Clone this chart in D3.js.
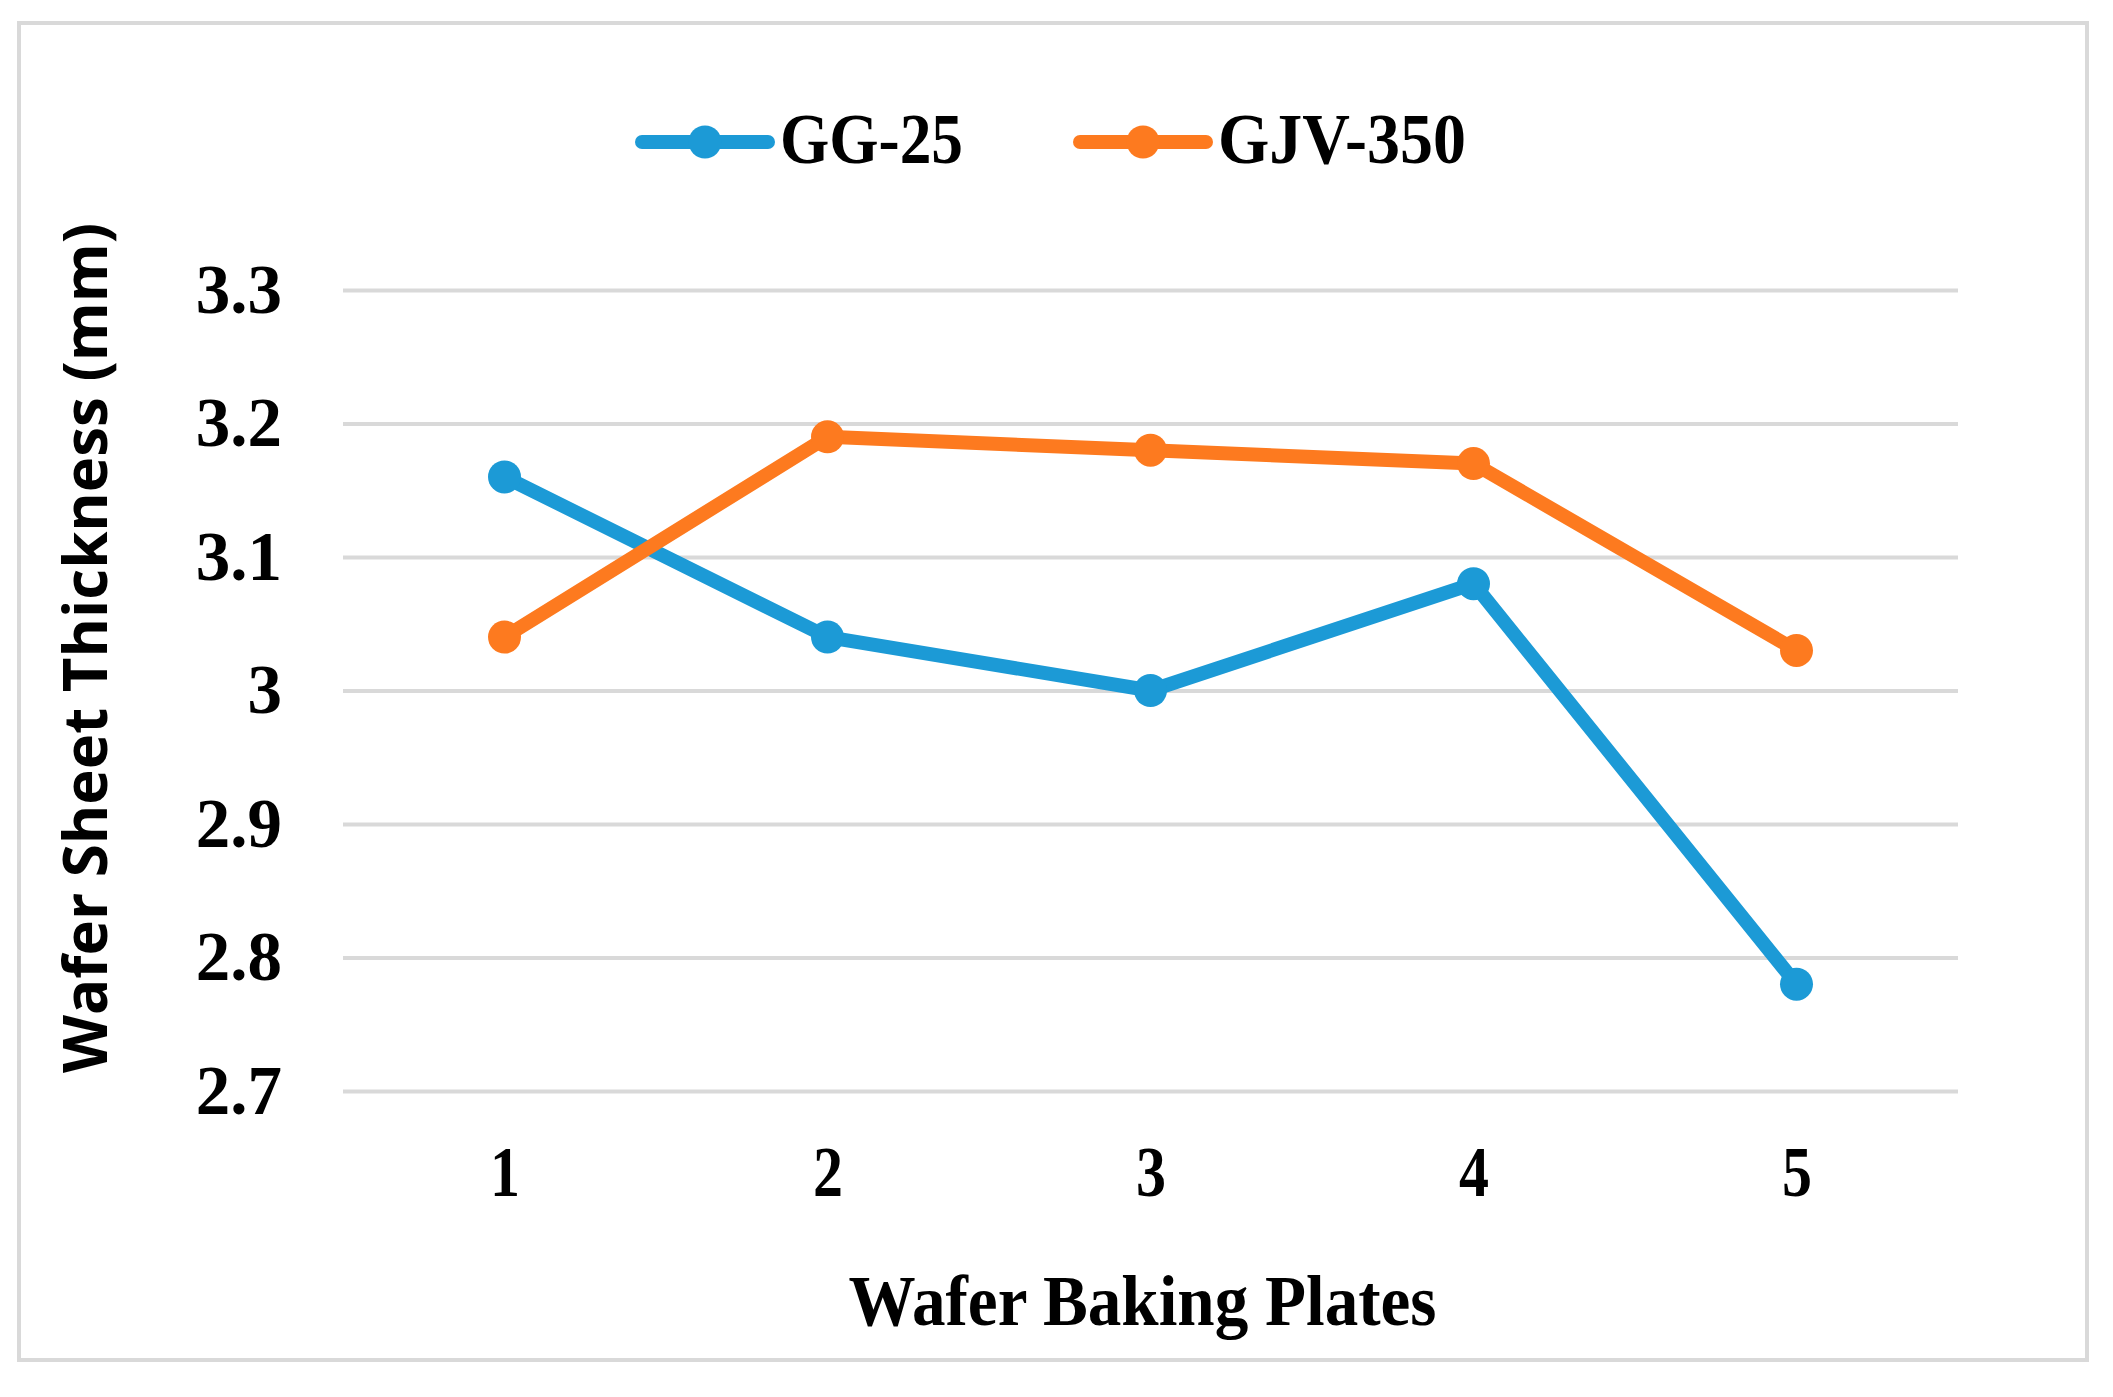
<!DOCTYPE html>
<html>
<head>
<meta charset="utf-8">
<script src="https://cdn.jsdelivr.net/npm/d3@7"></script>
<style>
  body { margin: 0; background: #fff; }
  .serif { font-family: "Liberation Serif", "Times New Roman", serif; font-weight: bold; }
</style>
</head>
<body>
<svg id="chart" width="2113" height="1397"></svg>
<script>
// data
var plates = [1, 2, 3, 4, 5];
var gg25 = [3.16, 3.04, 3.00, 3.08, 2.78];
var gjv350 = [3.04, 3.19, 3.18, 3.17, 3.03];
var seriesNames = ["GG-25", "GJV-350"];
var yTicks = [2.7, 2.8, 2.9, 3.0, 3.1, 3.2, 3.3];

var colors = ["#1c9ad6", "#fd7a1f"];

var margin = {top: 290, right: 155, bottom: 306, left: 343},
  width = 2113 - margin.left - margin.right,
  height = 1397 - margin.top - margin.bottom;

var svg = d3.select("#chart");

// outer frame
svg.append("rect")
  .attr("x", 19).attr("y", 23)
  .attr("width", 2068).attr("height", 1337)
  .attr("fill", "none")
  .attr("stroke", "#d9d9d9")
  .attr("stroke-width", 4);

var g = svg.append("g")
  .attr("transform", "translate(" + margin.left + "," + margin.top + ")");

var x = d3.scalePoint()
  .domain(plates)
  .range([0, width])
  .padding(0.5);

var y = d3.scaleLinear()
  .domain([2.7, 3.3])
  .range([height, 0]);

// y axis with gridlines
var yAxis = d3.axisLeft(y)
  .tickValues(yTicks)
  .tickSize(-width)
  .tickPadding(61)
  .tickFormat(function(d) { return String(+d.toFixed(1)); });

var ya = g.append("g").call(yAxis);
ya.select(".domain").remove();
ya.selectAll(".tick line")
  .attr("stroke", "#d9d9d9")
  .attr("stroke-width", 4);
ya.selectAll(".tick text")
  .attr("class", "serif")
  .attr("font-size", 69)
  .attr("fill", "#000");

// x axis
var xAxis = d3.axisBottom(x)
  .tickSize(0)
  .tickPadding(55);

var xa = g.append("g")
  .attr("transform", "translate(0," + height + ")")
  .call(xAxis);
xa.select(".domain").remove();
xa.selectAll(".tick text")
  .attr("class", "serif")
  .attr("font-size", 71)
  .attr("fill", "#000")
  .attr("textLength", 30)
  .attr("lengthAdjust", "spacingAndGlyphs");

// lines
var line = d3.line()
  .x(function(d, i) { return x(plates[i]); })
  .y(function(d) { return y(d); });

[gg25, gjv350].forEach(function(vals, k) {
  g.append("path")
    .datum(vals)
    .attr("fill", "none")
    .attr("stroke", colors[k])
    .attr("stroke-width", 14)
    .attr("stroke-linejoin", "round")
    .attr("d", line);

  g.selectAll(null)
    .data(vals)
    .enter()
    .append("circle")
    .attr("cx", function(d, i) { return x(plates[i]); })
    .attr("cy", function(d) { return y(d); })
    .attr("r", 16.5)
    .attr("fill", colors[k]);
});

// axis titles
svg.append("text")
  .attr("class", "serif")
  .attr("x", margin.left + width / 2 - 8)
  .attr("y", 1325)
  .attr("text-anchor", "middle")
  .attr("font-size", 72)
  .attr("textLength", 588)
  .attr("lengthAdjust", "spacingAndGlyphs")
  .text("Wafer Baking Plates");

svg.append("text")
  .attr("transform", "translate(107,648) rotate(-90)")
  .attr("text-anchor", "middle")
  .attr("font-family", "'Open Sans', sans-serif")
  .attr("font-weight", "bold")
  .attr("font-size", 60)
  .attr("textLength", 850)
  .attr("lengthAdjust", "spacingAndGlyphs")
  .text("Wafer Sheet Thickness (mm)");

// legend
var legendX = [642, 1080], legendW = [183, 248];
var legend = svg.append("g")
  .selectAll("g")
  .data(seriesNames)
  .enter()
  .append("g")
  .attr("transform", function(d, i) { return "translate(" + legendX[i] + ",142)"; });

legend.append("line")
  .attr("x1", 0).attr("x2", 126)
  .attr("stroke", function(d, i) { return colors[i]; })
  .attr("stroke-width", 14)
  .attr("stroke-linecap", "round");

legend.append("circle")
  .attr("cx", 63)
  .attr("r", 16.5)
  .attr("fill", function(d, i) { return colors[i]; });

legend.append("text")
  .attr("class", "serif")
  .attr("x", 138)
  .attr("y", 21)
  .attr("font-size", 72)
  .attr("textLength", function(d, i) { return legendW[i]; })
  .attr("lengthAdjust", "spacingAndGlyphs")
  .text(function(d) { return d; });
</script>
</body>
</html>
